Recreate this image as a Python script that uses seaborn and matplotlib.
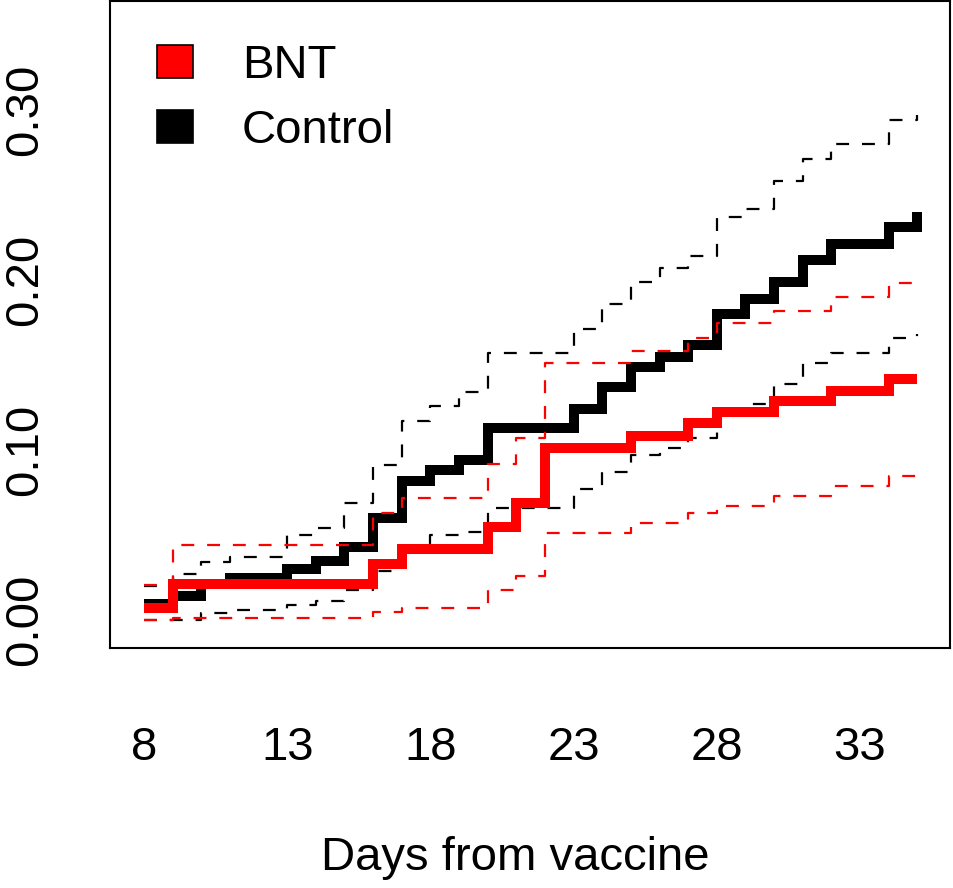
import numpy as np
import pandas as pd
import matplotlib
matplotlib.use("Agg")
import matplotlib.pyplot as plt
from matplotlib.patches import Patch
import seaborn as sns

# Curvas acumuladas por dia desde la vacuna
days_bnt = [8, 9, 16, 17, 20, 21, 22, 25, 27, 28, 30, 32, 34, 35]
bnt_est = [0.007, 0.021, 0.033, 0.042, 0.055, 0.069, 0.101, 0.108, 0.116, 0.1225, 0.129, 0.135, 0.142, 0.142]
bnt_hi = [0.0205, 0.044, 0.063, 0.072, 0.092, 0.107, 0.151, 0.158, 0.166, 0.175, 0.182, 0.190, 0.198, 0.198]
bnt_lo = [0.0, 0.001, 0.005, 0.007, 0.0176, 0.026, 0.051, 0.057, 0.063, 0.067, 0.073, 0.079, 0.085, 0.085]

days_ctl = [8, 9, 10, 11, 13, 14, 15, 16, 17, 18, 19, 20, 23, 24, 25, 26, 27, 28, 29, 30, 31, 32, 34, 35]
ctl_est = [0.0094, 0.014, 0.021, 0.025, 0.030, 0.035, 0.043, 0.060, 0.082, 0.088, 0.094, 0.113,
           0.124, 0.137, 0.149, 0.155, 0.162, 0.180, 0.189, 0.199, 0.212, 0.221, 0.231, 0.240]
ctl_hi = [0.020, 0.027, 0.034, 0.037, 0.050, 0.054, 0.069, 0.091, 0.117, 0.126, 0.134, 0.157,
          0.171, 0.186, 0.199, 0.207, 0.214, 0.237, 0.242, 0.258, 0.271, 0.280, 0.294, 0.297]
ctl_lo = [0.0, 0.0, 0.004, 0.006, 0.009, 0.011, 0.0176, 0.029, 0.042, 0.050, 0.052, 0.066,
          0.077, 0.087, 0.097, 0.101, 0.107, 0.121, 0.127, 0.139, 0.151, 0.157, 0.166, 0.168]

x_ticks = [8, 13, 18, 23, 28, 33]
y_ticks = [0.00, 0.05, 0.10, 0.15, 0.20, 0.25, 0.30, 0.35]
y_tick_labels = ["0.00", "", "0.10", "", "0.20", "", "0.30", ""]
groups = ["BNT", "Control"]
colors = {"BNT": "#FF0000", "Control": "#000000"}

sns.set_style("white")
plt.rcParams['font.family'] = ['Liberation Sans', 'DejaVu Sans']
plt.rcParams['text.color'] = 'black'
plt.rcParams['axes.labelcolor'] = 'black'
plt.rcParams['xtick.color'] = 'black'
plt.rcParams['ytick.color'] = 'black'

fig = plt.figure(figsize=(9.54, 8.88), dpi=100)
ax = fig.add_axes([110 / 954, 1 - 648 / 888, 840 / 954, 647 / 888])

series = [
    ("Control", days_ctl, ctl_est, ctl_lo, ctl_hi),
    ("BNT", days_bnt, bnt_est, bnt_lo, bnt_hi),
]
for name, d, est, lo, hi in series:
    c = colors[name]
    df = pd.DataFrame({"dia": d, "est": est, "lo": lo, "hi": hi})
    for col in ["lo", "hi"]:
        sns.lineplot(data=df, x="dia", y=col, ax=ax, estimator=None, sort=False,
                     drawstyle="steps-post", color=c, lw=1.6,
                     linestyle=(0, (5.8, 5.8)))
    sns.lineplot(data=df, x="dia", y="est", ax=ax, estimator=None, sort=False,
                 drawstyle="steps-post", color=c, lw=7.2,
                 solid_capstyle="butt", solid_joinstyle="miter")

ax.set_xlim(8 - 34 / 28.64, 8 + 806 / 28.64)
ax.set_ylim(-28 / 1704, 0.35 + 24 / 1704)
ax.set_xticks(x_ticks)
ax.set_xticklabels([str(t) for t in x_ticks], fontsize=34, color="black")
ax.set_yticks(y_ticks)
ax.set_yticklabels(y_tick_labels, fontsize=34, rotation=90, va="center", color="black")
ax.tick_params(axis="x", direction="out", length=19, width=1.5, pad=37, colors="black")
ax.tick_params(axis="y", direction="out", length=21, width=1.5, pad=24, colors="black")
for s in ax.spines.values():
    s.set_linewidth(1.5)
    s.set_color("black")

ax.set_ylabel("")
ax.set_xlabel("Days from vaccine", fontsize=34, color="black")
ax.xaxis.set_label_coords((515 - 110) / 840, (648 - 858) / 647)
ax.xaxis.label.set_va("center")

handles = [Patch(facecolor=colors[g], edgecolor="black", lw=1.2) for g in groups]
ax.legend(handles, groups, loc="upper left", bbox_to_anchor=((157 - 110) / 840, (648 - 44) / 647),
          frameon=False, fontsize=34, borderpad=0, borderaxespad=0, labelcolor="black",
          handlelength=0.76, handleheight=0.68, handletextpad=1.04, labelspacing=0.45)

fig.savefig("out.png", dpi=100)
